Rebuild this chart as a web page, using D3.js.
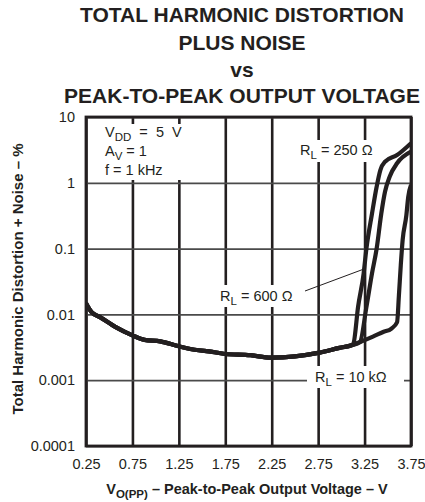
<!DOCTYPE html>
<html>
<head>
<meta charset="utf-8">
<script src="https://cdnjs.cloudflare.com/ajax/libs/d3/7.8.5/d3.min.js"></script>
<style>
  body { margin: 0; background: #fff; }
  text { font-family: "Liberation Sans", Arial, Helvetica, sans-serif; fill: #231f20; white-space: pre; }
</style>
</head>
<body>
<svg></svg>
<script>
var width = 425;
var height = 502;
var margin = { left: 86, right: 14, top: 117, bottom: 56 };

// axis ticks
var xTicks = [0.25, 0.75, 1.25, 1.75, 2.25, 2.75, 3.25, 3.75];
var xTickLabels = ["0.25", "0.75", "1.25", "1.75", "2.25", "2.75", "3.25", "3.75"];
var yTicks = [0.0001, 0.001, 0.01, 0.1, 1, 10];
var yTickLabels = ["0.0001", "0.001", "0.01", "0.1", "1", "10"];

// shared low-level part of the three curves
var sharedVolts = [0.25, 0.31, 0.40, 0.57, 0.75, 0.88, 1.05, 1.24, 1.42, 1.61, 1.75, 2.02, 2.24, 2.50, 2.75, 2.98, 3.11];
var sharedThd = [0.0148, 0.0108, 0.0091, 0.0064, 0.0048, 0.0041, 0.0039, 0.0033, 0.0029, 0.0027, 0.0025, 0.0024, 0.0022, 0.0023, 0.0026, 0.0031, 0.0034];

// clipping tails
var volts250 = [3.13, 3.18, 3.24, 3.27, 3.33, 3.38, 3.42, 3.47, 3.60, 3.75];
var thd250 = [0.0036, 0.013, 0.042, 0.10, 0.34, 0.87, 1.56, 2.09, 2.64, 4.0];
var volts600 = [3.20, 3.27, 3.33, 3.38, 3.43, 3.47, 3.52, 3.60, 3.75];
var thd600 = [0.0038, 0.013, 0.042, 0.10, 0.34, 0.73, 1.24, 1.98, 2.97];
var volts10k = [3.22, 3.34, 3.45, 3.54, 3.60, 3.62, 3.64, 3.66, 3.70, 3.72, 3.75];
var thd10k = [0.0039, 0.0046, 0.0054, 0.0061, 0.0076, 0.0196, 0.056, 0.135, 0.32, 0.61, 0.93];

var svg = d3.select("svg")
    .attr("width", width)
    .attr("height", height);

var x = d3.scaleLinear()
    .domain([0.25, 3.75])
    .range([margin.left, width - margin.right]);

var y = d3.scaleLog()
    .domain([0.0001, 10])
    .range([height - margin.bottom, margin.top]);

function series(v, t) {
    var pts = [];
    sharedVolts.forEach(function (d, i) { pts.push({ x: d, y: sharedThd[i] }); });
    v.forEach(function (d, i) { pts.push({ x: d, y: t[i] }); });
    return pts;
}

// title
var titleLines = ["TOTAL HARMONIC DISTORTION", "PLUS NOISE", "vs", "PEAK-TO-PEAK OUTPUT VOLTAGE"];
var titleY = [22, 50, 77, 103];
svg.selectAll("text.title")
    .data(titleLines)
    .enter().append("text")
    .attr("class", "title")
    .attr("x", 242)
    .attr("y", (d, i) => titleY[i])
    .attr("text-anchor", "middle")
    .style("font-size", "21px")
    .style("font-weight", "bold")
    .text((d) => d);

// grid
svg.append("g")
    .attr("transform", "translate(0," + (height - margin.bottom) + ")")
    .call(d3.axisBottom(x).tickValues(xTicks).tickSize(-(height - margin.top - margin.bottom)).tickFormat((d, i) => xTickLabels[i]))
    .call((g) => g.select(".domain").remove())
    .call((g) => g.selectAll("line").attr("stroke", "#231f20").attr("stroke-width", 2.6))
    .call((g) => g.selectAll("text").attr("dy", "1.35em").style("font-size", "14.5px"));

svg.append("g")
    .attr("transform", "translate(" + margin.left + ",0)")
    .call(d3.axisLeft(y).tickValues(yTicks).tickSize(-(width - margin.left - margin.right)).tickFormat((d, i) => yTickLabels[i]))
    .call((g) => g.select(".domain").remove())
    .call((g) => g.selectAll("line").attr("stroke", "#4a4a4a").attr("stroke-width", 1.8))
    .call((g) => g.selectAll("text").attr("x", -11).style("font-size", "14.5px"));

svg.selectAll(".tick text").attr("fill", "#231f20");

// label backgrounds
function whiteBox(x0, y0, w, h) {
    svg.append("rect")
        .attr("x", x0).attr("y", y0)
        .attr("width", w).attr("height", h)
        .attr("fill", "#fff");
}
whiteBox(96, 124, 100, 56);
whiteBox(296, 140, 88, 22);
whiteBox(216, 285, 88, 22);
whiteBox(307, 366, 97, 22);

// curves
svg.append("clipPath").attr("id", "clip")
    .append("rect")
    .attr("x", margin.left).attr("y", margin.top)
    .attr("width", width - margin.left - margin.right)
    .attr("height", height - margin.top - margin.bottom);

var line = d3.line()
    .x((d) => x(d.x))
    .y((d) => y(d.y))
    .curve(d3.curveMonotoneX);

var curves = [series(volts10k, thd10k), series(volts600, thd600), series(volts250, thd250)];
svg.append("g")
    .attr("clip-path", "url(#clip)")
    .selectAll("path.curve")
    .data(curves)
    .enter().append("path")
    .attr("class", "curve")
    .attr("d", (d) => line(d))
    .attr("fill", "none")
    .attr("stroke", "#231f20")
    .attr("stroke-width", 4.2)
    .attr("stroke-linejoin", "round");

// frame
svg.append("rect")
    .attr("x", margin.left).attr("y", margin.top)
    .attr("width", width - margin.left - margin.right)
    .attr("height", height - margin.top - margin.bottom)
    .attr("fill", "none")
    .attr("stroke", "#231f20")
    .attr("stroke-width", 2.8);

// annotations
function subText(px, py, main, sub, rest) {
    var t = svg.append("text")
        .attr("x", px).attr("y", py)
        .style("font-size", "14.5px");
    t.append("tspan").text(main);
    t.append("tspan").attr("dy", 4).style("font-size", "11.5px").text(sub);
    t.append("tspan").attr("dy", -4).text(rest);
    return t;
}
subText(105, 137, "V", "DD", "  =  5  V");
subText(105, 156, "A", "V", " = 1");
svg.append("text").attr("x", 105).attr("y", 175).style("font-size", "14.5px").text("f = 1 kHz");

subText(300, 155, "R", "L", " = 250 Ω");
subText(220, 301, "R", "L", " = 600 Ω");
subText(315, 382, "R", "L", " = 10 kΩ");

svg.append("line")
    .attr("x1", 305).attr("y1", 291)
    .attr("x2", 364).attr("y2", 269)
    .attr("stroke", "#231f20")
    .attr("stroke-width", 1);

// axis titles
var xt = svg.append("text")
    .attr("x", 247).attr("y", 494)
    .attr("text-anchor", "middle")
    .style("font-size", "14.5px")
    .style("font-weight", "bold");
xt.append("tspan").text("V");
xt.append("tspan").attr("dy", 4).style("font-size", "11.5px").text("O(PP)");
xt.append("tspan").attr("dy", -4).text(" – Peak-to-Peak Output Voltage – V");

svg.append("text")
    .attr("transform", "translate(23,279) rotate(-90)")
    .attr("text-anchor", "middle")
    .style("font-size", "15px")
    .style("font-weight", "bold")
    .text("Total Harmonic Distortion + Noise – %");
</script>
</body>
</html>
